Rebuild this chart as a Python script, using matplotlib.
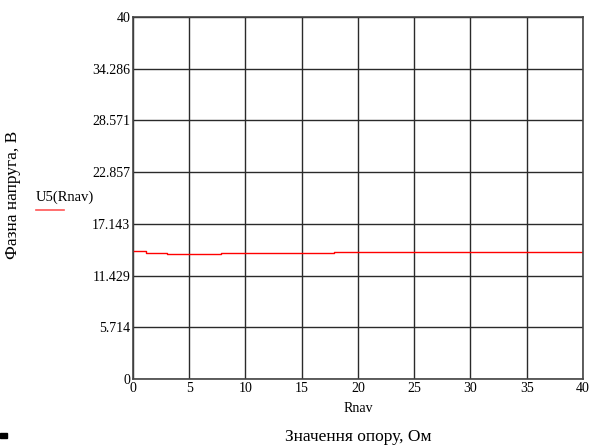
import matplotlib.pyplot as plt
import numpy as np

# Значення опору (точки зміни) та фазна напруга U5
r_nav = [0, 1.16, 3.0, 7.8, 17.9, 40]
u5 = [14.18, 13.92, 13.78, 13.92, 14.0, 14.0]

y_ticks = [0, 5.714, 11.429, 17.143, 22.857, 28.571, 34.286, 40]
y_labels = ['0', '5.714', '11.429', '17.143', '22.857', '28.571', '34.286', '40']
x_ticks = [0, 5, 10, 15, 20, 25, 30, 35, 40]

plt.rcParams['font.family'] = ['Liberation Serif', 'DejaVu Serif']

fig = plt.figure(figsize=(5.9, 4.48), dpi=100)
ax = fig.add_axes([0.2254, 0.154, 0.7627, 0.808])

ax.plot(r_nav, u5, color='red', linewidth=1.0, drawstyle='steps-post')

ax.set_xlim(0, 40)
ax.set_ylim(0, 40)
ax.set_xticks(x_ticks)
ax.set_yticks(y_ticks)
ax.set_yticklabels(y_labels)
ax.tick_params(length=0, labelsize=10, pad=2)
ax.grid(True, color='#2a2a2a', linewidth=1.0)
for s in ax.spines.values():
    s.set_color('#444444')
    s.set_linewidth(1.2)

ax.set_xlabel('Rnav', fontsize=10, labelpad=5)

# підписи осей та легенда
fig.text(0.607, 0.024, 'Значення опору, Ом', ha='center', va='center', fontsize=12.5)
fig.text(0.022, 0.565, 'Фазна напруга, В', ha='center', va='center',
         rotation=90, fontsize=12.5)
fig.text(0.061, 0.56, 'U5(Rnav)', ha='left', va='center', fontsize=10.5)
fig.add_artist(plt.Line2D([0.061, 0.108], [0.531, 0.531], color='#ff5555', linewidth=1.2))
fig.add_artist(plt.Rectangle((0, 0.022), 0.012, 0.012, color='black'))

fig.savefig('out.png', dpi=100)
